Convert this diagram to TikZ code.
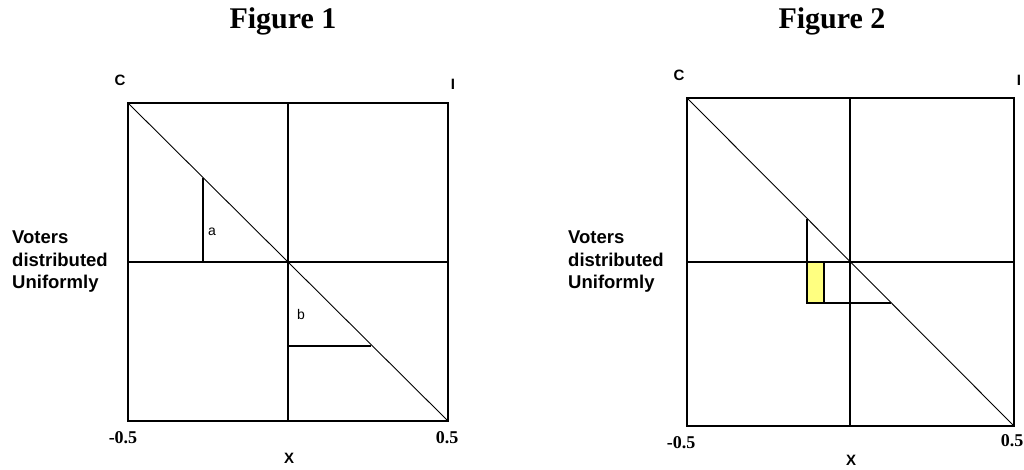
\documentclass[tikz,border=0pt]{standalone}
\usepackage{fontspec}
\setmainfont{Liberation Serif}
\newfontfamily\labelfont{Liberation Sans}
\usetikzlibrary{positioning}
\definecolor{hilite}{RGB}{255,255,128}

\begin{document}
\begin{tikzpicture}[
  x=1pt, y=-1pt,
  title/.style={font=\fontsize{30}{30}\selectfont\bfseries, inner sep=0pt},
  frame/.style={line width=1.4pt},
  diag/.style={line width=0.9pt},
  corner/.style={font=\labelfont\fontsize{15}{15}\selectfont\bfseries, inner sep=0pt},
  axisnum/.style={font=\fontsize{18}{18}\selectfont\bfseries, inner sep=0pt},
  side/.style={font=\labelfont\fontsize{18.5}{22.5}\selectfont\bfseries,
               align=left, anchor=west, inner sep=0pt},
  area/.style={font=\labelfont\fontsize{14}{14}\selectfont, inner sep=0pt},
]
  \useasboundingbox (0,0) rectangle (1024,470);

  %% Figure 1
  \node[title] (fig1) at (283,21) {Figure 1};
  \draw[frame] (128,103) rectangle (448,421);
  \draw[frame] (288,103) -- (288,421);
  \draw[frame] (128,262) -- (448,262);
  \draw[diag] (128,103) -- (448,421);
  \draw[frame] (203,178) -- (203,262);
  \draw[frame] (288,346) -- (371,346);
  \node[area] (la) at (212,232) {a};
  \node[area] (lb) at (301,314) {b};
  \node[corner] (c1) at (120,80) {C};
  \node[corner] (i1) at (453,84) {I};
  \node[axisnum] (lo1) at (123,438) {-0.5};
  \node[axisnum] (hi1) at (447,438) {0.5};
  \node[corner] (x1) at (289,458) {X};
  \node[side] (v1) at (12,262) {Voters\\distributed\\Uniformly};

  %% Figure 2
  \node[title] (fig2) at (832,21) {Figure 2};
  \fill[hilite] (807,262) rectangle (824,303);
  \draw[frame] (687,98) rectangle (1014,426);
  \draw[frame] (850,98) -- (850,426);
  \draw[frame] (687,262) -- (1014,262);
  \draw[diag] (687,98) -- (1014,426);
  \draw[frame] (807,219) -- (807,303) -- (891,303);
  \draw[frame] (824,262) -- (824,303);
  \node[corner] (c2) at (679,75) {C};
  \node[corner] (i2) at (1019,80) {I};
  \node[axisnum] (lo2) at (681,443) {-0.5};
  \node[axisnum] (hi2) at (1012,441) {0.5};
  \node[corner] (x2) at (851,460) {X};
  \node[side] (v2) at (568,262) {Voters\\distributed\\Uniformly};
\end{tikzpicture}
\end{document}
